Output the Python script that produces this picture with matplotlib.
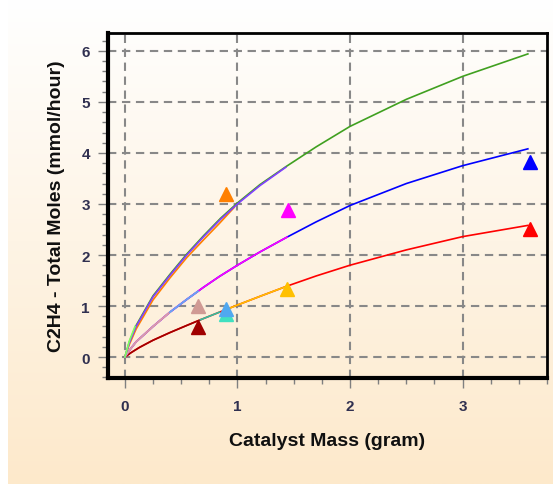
import numpy as np
import matplotlib
matplotlib.use("Agg")
import matplotlib.pyplot as plt
from matplotlib.ticker import MultipleLocator

# ---- data ----
green_x = [0, 0.04, 0.1, 0.25, 0.4, 0.55, 0.7, 0.85, 1.0, 1.2, 1.43, 1.7, 2.0, 2.5, 3.0, 3.58]
green_y = [0, 0.3, 0.62, 1.2, 1.62, 2.02, 2.38, 2.72, 3.02, 3.38, 3.73, 4.12, 4.52, 5.05, 5.5, 5.94]
violet_x = [0, 0.04, 0.1, 0.25, 0.4, 0.55, 0.7, 0.85, 1.0, 1.2, 1.43]
violet_y = [0, 0.28, 0.6, 1.18, 1.6, 2.0, 2.36, 2.7, 3.0, 3.36, 3.72]
orange_x = [0, 0.04, 0.1, 0.25, 0.4, 0.55, 0.7, 0.84, 0.97]
orange_y = [0, 0.25, 0.55, 1.12, 1.55, 1.95, 2.3, 2.62, 2.93]
lgreen_x = [0, 0.04, 0.09]
lgreen_y = [0, 0.32, 0.6]

blue_x = [0, 0.05, 0.1, 0.25, 0.4, 0.55, 0.7, 0.84, 1.0, 1.2, 1.44, 1.7, 2.0, 2.5, 3.0, 3.58]
blue_y = [0, 0.16, 0.3, 0.6, 0.88, 1.13, 1.37, 1.58, 1.8, 2.06, 2.35, 2.65, 2.97, 3.4, 3.75, 4.08]
magenta_x = [0, 0.05, 0.1, 0.25, 0.4, 0.55, 0.7, 0.84, 1.0, 1.2, 1.44]
magenta_y = [0, 0.16, 0.3, 0.6, 0.88, 1.13, 1.37, 1.58, 1.8, 2.06, 2.35]
rosy_x = [0, 0.05, 0.1, 0.25, 0.4]
rosy_y = [0, 0.16, 0.3, 0.6, 0.88]
lblue_x = [0.4, 0.55, 0.65]
lblue_y = [0.88, 1.13, 1.29]

red_x = [0, 0.05, 0.13, 0.25, 0.4, 0.55, 0.67, 0.84, 1.0, 1.2, 1.44, 1.7, 2.0, 2.5, 3.0, 3.58]
red_y = [0, 0.08, 0.19, 0.33, 0.48, 0.62, 0.73, 0.88, 1.02, 1.19, 1.39, 1.59, 1.8, 2.1, 2.36, 2.58]
dred_x = [0, 0.05, 0.13, 0.25, 0.4, 0.55, 0.67]
dred_y = [0, 0.08, 0.19, 0.33, 0.48, 0.62, 0.73]
teal_x = [0.67, 0.84]
teal_y = [0.73, 0.88]
gold_x = [0.9, 1.0, 1.2, 1.44]
gold_y = [0.93, 1.02, 1.19, 1.39]

pts_x = [0.9, 1.45, 3.6, 0.65, 0.9, 0.9, 0.65, 1.44, 3.6]
pts_y = [3.2, 2.88, 3.82, 1.01, 0.85, 0.94, 0.59, 1.33, 2.51]
pts_c = ["#ff8000", "#ff00ff", "#0000ff", "#d09a94", "#40e0c0", "#50a8f0",
         "#a00000", "#ffc000", "#ff0000"]

x_ticks = [0, 1, 2, 3]
y_ticks = [0, 1, 2, 3, 4, 5, 6]

W, H = 553, 489
fig = plt.figure(figsize=(W / 100, H / 100), dpi=100)
fig.patch.set_facecolor("white")

# gradient background panel
bg = fig.add_axes([8 / W, 4 / H, 1 - 8 / W, 1 - 4 / H])
top = np.array([1.0, 1.0, 1.0])
bot = np.array([253, 233, 203]) / 255.0
t = np.linspace(0, 1, 256)[:, None]
grad = top[None, :] * (1 - t) + bot[None, :] * t
bg.imshow(grad[:, None, :], aspect="auto", extent=[0, 1, 0, 1])
bg.set_axis_off()

ax = fig.add_axes([108 / W, (H - 379) / H, 439 / W, 345 / H])
ax.patch.set_alpha(0)

lw = 1.2
ax.plot(red_x, red_y, color="#ff0000", lw=lw, zorder=3)
ax.plot(dred_x, dred_y, color="#a00000", lw=lw, zorder=4)
ax.plot(teal_x, teal_y, color="#30c0a0", lw=lw, zorder=4)
ax.plot(gold_x, gold_y, color="#ffc000", lw=lw, zorder=4)

ax.plot(blue_x, blue_y, color="#0000ff", lw=lw, zorder=3)
ax.plot(magenta_x, magenta_y, color="#ff00ff", lw=lw, zorder=4)
ax.plot(rosy_x, rosy_y, color="#d8a8a0", lw=lw, zorder=5)
ax.plot(lblue_x, lblue_y, color="#60b0f0", lw=lw, zorder=5)

ax.plot(green_x, green_y, color="#40a020", lw=lw, zorder=3)
ax.plot(orange_x, orange_y, color="#ff8000", lw=lw, zorder=4)
ax.plot(violet_x, violet_y, color="#8040ff", lw=lw, zorder=5)
ax.plot(lgreen_x, lgreen_y, color="#80ff60", lw=lw, zorder=6)

for x, y, c in zip(pts_x, pts_y, pts_c):
    ax.plot([x], [y], marker="^", ms=10, color=c, mec=c, ls="none", zorder=7)

ax.set_xlim(-0.15, 3.75)
ax.set_ylim(-0.41, 6.35)
ax.set_xticks(x_ticks)
ax.set_yticks(y_ticks)
ax.xaxis.set_minor_locator(MultipleLocator(0.25))
ax.yaxis.set_minor_locator(MultipleLocator(0.2))
ax.grid(True, which="major", color="#888888", lw=1.5, ls=(0, (4, 2.7)), zorder=1)

for s in ["left", "bottom"]:
    ax.spines[s].set_linewidth(3)
for s in ["top", "right"]:
    ax.spines[s].set_linewidth(2)
for s in ax.spines.values():
    s.set_color("black")

ax.tick_params(which="major", length=7, width=1, color="#808080", direction="out")
ax.tick_params(which="minor", length=4, width=1, color="#808080", direction="out")
for lab in ax.get_xticklabels() + ax.get_yticklabels():
    lab.set_fontfamily("Liberation Sans")
    lab.set_fontweight("bold")
    lab.set_fontsize(11)
    lab.set_color("#303050")
ax.tick_params(axis="x", pad=8)
ax.tick_params(axis="y", pad=6)

ax.set_xlabel("Catalyst Mass (gram)", fontfamily="Liberation Sans",
              fontweight="bold", fontsize=14, labelpad=14, color="#101010")
ax.set_ylabel("C2H4 - Total Moles (mmol/hour)", fontfamily="Liberation Sans",
              fontweight="bold", fontsize=14, labelpad=12, color="#101010")

fig.savefig("out.png", dpi=100)
